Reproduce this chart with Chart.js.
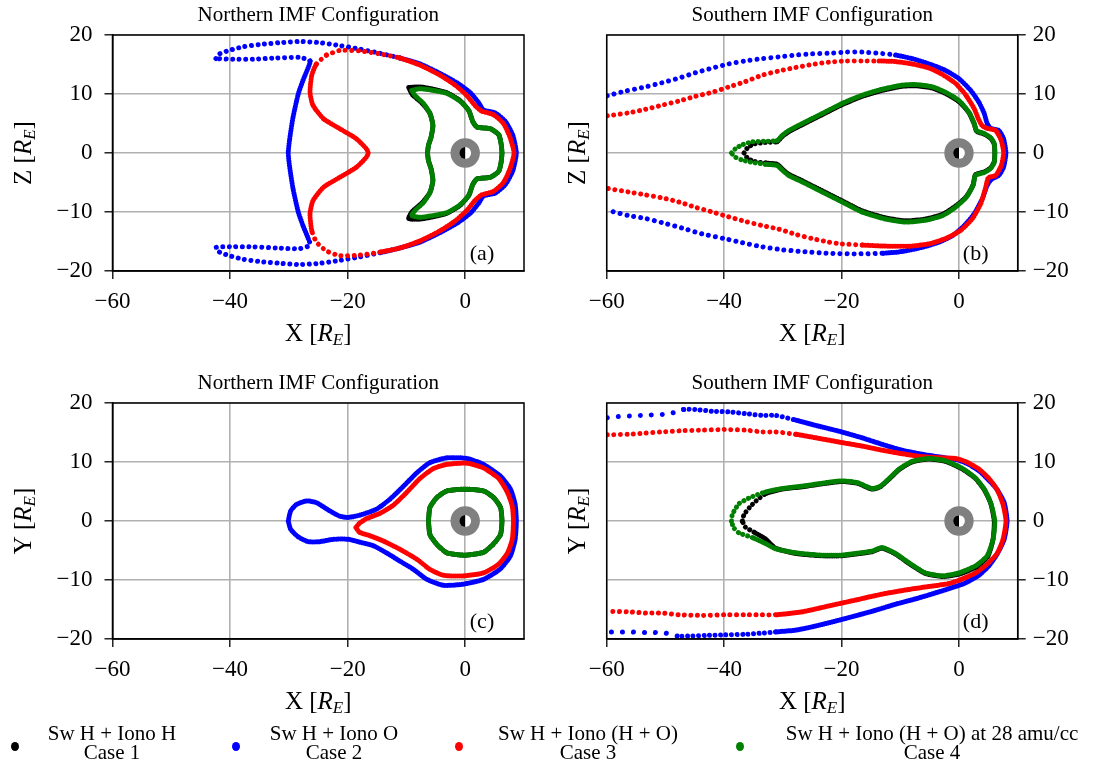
<!DOCTYPE html>
<html>
<head>
<meta charset="utf-8">
<script src="https://cdn.jsdelivr.net/npm/chart.js@4"></script>
<style>
  html, body { margin: 0; padding: 0; background: #fff; }
  body { width: 1107px; height: 766px; position: relative; overflow: hidden; font-family: "Liberation Serif", serif; }
  canvas { position: absolute; }
  .leg-dot { position: absolute; width: 8px; height: 9px; border-radius: 50%; }
  .leg-txt { position: absolute; top: 724px; transform: translateX(-50%); white-space: nowrap;
             text-align: center; font-size: 21px; line-height: 19px; color: #000; }
</style>
</head>
<body>
<canvas id="pa" width="560" height="360" style="left:0;top:0"></canvas>
<canvas id="pb" width="547" height="360" style="left:560px;top:0"></canvas>
<canvas id="pc" width="560" height="360" style="left:0;top:368px"></canvas>
<canvas id="pd" width="547" height="360" style="left:560px;top:368px"></canvas>
<div id="legend"></div>
<script>
// ---- axes ----
const X_MIN = -60, X_MAX = 10, Y_MIN = -20, Y_MAX = 20;
const xTicks = [-60, -40, -20, 0];
const yTicks = [-20, -10, 0, 10, 20];
const EARTH_R = 1, INNER_R = 2.5;   // R_E

const caseLines = ['Sw H + Iono H', 'Sw H + Iono O', 'Sw H + Iono (H + O)', 'Sw H + Iono (H + O) at 28 amu/cc'];
const caseNames = ['Case 1', 'Case 2', 'Case 3', 'Case 4'];
const caseColors = ['#000000', '#0000ff', '#ff0000', '#008000'];

// ---- (a) northern, X-Z ----
const aBlack = [[-9.6,11.1],[-7.7,11.2],[-5.4,10.8],[-3.1,10.2],[-0.9,8.9],[0.6,7.2],[1.3,5.3],[2.0,4.4],[4.3,4.1],[5.7,3.1],[6.1,1.6],[6.25,0],[6.1,-1.6],[5.7,-3.1],[4.3,-4.1],[2.0,-4.4],[1.3,-5.3],[0.6,-7.2],[-0.9,-8.9],[-3.1,-10.2],[-5.4,-10.8],[-7.7,-11.2],[-9.6,-11.1],[-9.0,-9.9],[-7.3,-8.4],[-6.0,-6.7],[-5.5,-4.7],[-5.8,-2.7],[-6.25,-1.3],[-6.4,0],[-6.25,1.3],[-5.8,2.7],[-5.5,4.7],[-6.0,6.7],[-7.3,8.4],[-9.0,9.9],[-9.6,11.1]];
const aBlue = [[-42.4,16.0],[-41.8,16.8],[-40.1,17.4],[-37.8,18.0],[-34.9,18.4],[-31.5,18.7],[-28.1,18.9],[-24.7,18.7],[-21.3,18.2],[-17.9,17.6],[-14.5,16.9],[-11.1,16.1],[-7.7,15.1],[-4.3,13.5],[-1.4,11.9],[0.9,10.2],[2.3,8.5],[3.1,7.3],[5.1,6.8],[6.8,5.4],[8.1,3.0],[8.7,0],[8.1,-3.0],[6.8,-5.4],[5.1,-6.8],[3.1,-7.3],[2.3,-8.5],[0.9,-10.2],[-1.4,-11.9],[-4.3,-13.5],[-7.7,-15.1],[-11.1,-16.1],[-14.5,-16.9],[-17.9,-17.6],[-21.3,-18.2],[-24.7,-18.7],[-28.1,-18.9],[-31.5,-18.7],[-34.9,-18.4],[-37.8,-18.0],[-40.1,-17.4],[-41.8,-16.8],[-42.4,-16.0],[-39.5,-15.9],[-36.1,-15.9],[-32.1,-16.1],[-28.1,-16.2],[-26.4,-15.6],[-26.7,-14.5],[-27.6,-12.3],[-28.4,-10.0],[-29.3,-6.0],[-29.9,-2.1],[-30.1,0],[-29.9,2.1],[-29.3,6.0],[-28.4,10.0],[-27.6,12.3],[-26.7,14.5],[-26.4,15.6],[-28.1,16.2],[-32.1,16.1],[-36.1,15.9],[-39.5,15.9],[-42.4,16.0]];
const aRed = [[-23.6,16.6],[-21.3,17.4],[-17.9,17.3],[-14.5,16.8],[-11.1,16.1],[-7.7,14.9],[-4.3,13.2],[-1.7,11.5],[0.3,9.7],[1.7,8.0],[2.8,7.1],[4.8,6.5],[6.5,5.0],[7.6,2.7],[8.3,0],[7.6,-2.7],[6.5,-5.0],[4.8,-6.5],[2.8,-7.1],[1.7,-8.0],[0.3,-9.7],[-1.7,-11.5],[-4.3,-13.2],[-7.7,-14.9],[-11.1,-16.1],[-14.5,-16.8],[-17.9,-17.3],[-21.3,-17.4],[-23.6,-16.6],[-25.3,-15.1],[-26.1,-13.2],[-26.4,-10.3],[-25.9,-8.1],[-24.1,-5.8],[-21.3,-4.1],[-18.5,-2.4],[-16.8,-0.7],[-16.5,0],[-16.8,0.7],[-18.5,2.4],[-21.3,4.1],[-24.1,5.8],[-25.9,8.1],[-26.4,10.3],[-26.1,13.2],[-25.3,15.1],[-23.6,16.6]];
const aGreen = [[-9.1,10.6],[-7.7,10.9],[-5.4,10.6],[-3.1,10.1],[-0.9,8.8],[0.6,7.2],[1.3,5.3],[2.0,4.4],[4.3,4.1],[5.7,3.1],[6.1,1.6],[6.25,0],[6.1,-1.6],[5.7,-3.1],[4.3,-4.1],[2.0,-4.4],[1.3,-5.3],[0.6,-7.2],[-0.9,-8.8],[-3.1,-10.1],[-5.4,-10.6],[-7.7,-10.9],[-9.1,-10.6],[-8.5,-9.7],[-7.1,-8.4],[-6.0,-6.7],[-5.5,-4.7],[-5.8,-2.7],[-6.25,-1.3],[-6.4,0],[-6.25,1.3],[-5.8,2.7],[-5.5,4.7],[-6.0,6.7],[-7.1,8.4],[-8.5,9.7],[-9.1,10.6]];

// ---- (b) southern, X-Z ----
const bBlack = [[-36.6,0],[-36.0,0.9],[-35.0,1.5],[-33.0,1.8],[-31.0,1.9],[-30.1,2.8],[-29.0,3.6],[-26.7,4.8],[-23.3,6.5],[-19.9,8.2],[-16.5,9.6],[-13.1,10.6],[-9.7,11.3],[-7.4,11.4],[-4.5,11.0],[-2.3,10.1],[0,8.7],[1.7,6.8],[2.6,4.9],[3.0,3.7],[4.3,3.2],[5.4,2.5],[6.0,1.5],[6.1,0],[6.0,-1.5],[5.4,-2.5],[4.3,-3.2],[2.8,-3.7],[2.4,-5.4],[1.25,-7.4],[-0.6,-9.0],[-2.8,-10.4],[-5.7,-11.2],[-9.1,-11.5],[-12.5,-11.0],[-16.5,-9.8],[-19.9,-8.1],[-23.3,-6.4],[-26.7,-4.7],[-29.0,-3.6],[-30.1,-2.7],[-31.0,-1.9],[-33.0,-1.7],[-35.0,-1.4],[-36.0,-0.9],[-36.6,0]];
const bBlue = [[-59.9,9.7],[-56.8,10.5],[-53.4,11.2],[-50.6,11.9],[-47.7,12.7],[-44.9,13.6],[-42.0,14.4],[-39.2,15.1],[-36.4,15.6],[-33.5,16.0],[-30.7,16.3],[-27.8,16.6],[-25.0,16.8],[-22.2,16.9],[-19.3,17.1],[-16.5,17.1],[-13.6,16.9],[-10.8,16.6],[-8.0,16.0],[-5.1,15.1],[-2.3,14.0],[0,12.6],[2.0,10.6],[3.4,8.6],[4.3,6.7],[4.8,5.0],[5.4,4.2],[6.8,3.8],[7.6,2.4],[8.0,0],[7.6,-2.4],[6.8,-3.8],[5.6,-4.4],[4.8,-5.5],[4.0,-7.7],[2.6,-10.3],[0.9,-12.3],[-1.1,-14.0],[-3.4,-15.1],[-6.3,-16.0],[-9.7,-16.7],[-13.1,-17.0],[-17.6,-17.1],[-22.2,-17.0],[-26.7,-16.7],[-30.1,-16.4],[-33.5,-15.9],[-36.9,-15.2],[-40.0,-14.5],[-43.8,-13.7],[-47.2,-12.7],[-50.6,-11.8],[-53.4,-11.1],[-56.3,-10.6],[-59.9,-9.7]];
const bRed = [[-59.9,6.3],[-56.3,6.8],[-53.4,7.4],[-50.6,8.1],[-47.7,8.8],[-44.9,9.6],[-42.0,10.3],[-39.2,11.2],[-36.4,12.1],[-33.5,13.2],[-30.7,13.9],[-27.8,14.5],[-25.0,15.0],[-22.2,15.4],[-19.3,15.6],[-16.5,15.6],[-13.6,15.6],[-10.8,15.5],[-8.0,15.1],[-5.1,14.4],[-2.8,13.3],[-0.6,11.8],[1.1,9.9],[2.6,7.5],[3.3,5.8],[3.9,4.7],[4.7,4.2],[6.25,3.8],[7.2,2.1],[7.6,0],[7.2,-2.1],[6.25,-3.8],[5.0,-4.2],[4.5,-6.0],[3.7,-8.6],[2.3,-11.1],[0.3,-13.1],[-2.3,-14.5],[-5.1,-15.4],[-8.5,-15.8],[-11.9,-15.8],[-16.5,-15.6],[-20.0,-15.4],[-22.2,-15.1],[-25.0,-14.5],[-27.8,-13.8],[-30.7,-12.9],[-33.5,-12.3],[-36.4,-11.6],[-40.0,-10.6],[-42.0,-10.0],[-44.9,-9.2],[-47.7,-8.3],[-50.6,-7.6],[-53.4,-7.1],[-56.3,-6.6],[-59.9,-6.0]];
const bGreen = [[-38.75,0],[-38.1,0.7],[-36.9,1.4],[-35.2,1.9],[-33.0,2.0],[-31.0,2.1],[-30.1,3.0],[-29.0,3.8],[-26.7,5.0],[-23.3,6.7],[-19.9,8.4],[-16.5,9.8],[-13.1,10.8],[-9.7,11.5],[-7.4,11.6],[-4.5,11.2],[-2.3,10.3],[0,8.9],[1.7,6.9],[2.6,5.0],[3.0,3.8],[4.3,3.3],[5.4,2.6],[6.0,1.6],[6.1,0],[6.0,-1.6],[5.4,-2.6],[4.3,-3.3],[2.8,-3.8],[2.4,-5.5],[1.25,-7.5],[-0.6,-9.2],[-2.8,-10.6],[-5.7,-11.4],[-9.1,-11.7],[-12.5,-11.2],[-16.5,-10.0],[-19.9,-8.3],[-23.3,-6.6],[-26.7,-4.9],[-29.0,-3.8],[-30.1,-2.9],[-31.0,-2.1],[-33.0,-1.9],[-35.2,-1.6],[-36.9,-1.2],[-38.1,-0.7],[-38.75,0]];

// ---- (c) northern, X-Y ----
const cBlack = [[-6.25,0],[-6.0,2.3],[-4.8,4.0],[-3.1,5.1],[0,5.4],[3.1,5.1],[4.8,4.0],[6.0,2.3],[6.25,0],[6.0,-2.3],[4.8,-3.9],[3.1,-5.3],[0,-5.8],[-3.1,-5.4],[-4.8,-4.0],[-6.0,-2.3],[-6.25,0]];
const cBlue = [[-30.1,0],[-29.7,1.7],[-28.7,2.8],[-27.0,3.4],[-25.3,3.1],[-23.0,1.7],[-21.3,0.8],[-19.9,0.6],[-17.9,1.0],[-15.1,2.0],[-12.8,3.7],[-10.5,5.9],[-8.2,8.2],[-6.0,9.9],[-3.1,10.7],[0.3,10.6],[3.1,9.6],[6.0,7.6],[7.7,5.4],[8.5,2.8],[8.7,0],[8.5,-3.1],[7.7,-5.9],[6.0,-8.1],[3.1,-9.9],[-0.3,-10.7],[-3.7,-10.9],[-6.5,-9.9],[-8.8,-8.2],[-11.1,-6.8],[-13.4,-5.4],[-15.6,-4.2],[-17.9,-3.6],[-19.9,-3.1],[-22.4,-3.1],[-24.7,-3.5],[-26.7,-3.5],[-28.4,-2.7],[-29.7,-1.4],[-30.1,0]];
const cRed = [[-18.6,-1.1],[-18.0,-0.4],[-16.8,0.4],[-14.5,1.3],[-12.2,2.7],[-9.9,4.9],[-7.7,7.2],[-5.4,8.9],[-3.1,9.6],[0.3,9.8],[3.1,9.0],[5.7,7.2],[7.2,4.8],[8.0,2.5],[8.2,0],[8.0,-3.1],[7.2,-5.4],[5.7,-7.3],[3.1,-8.8],[-0.3,-9.3],[-3.7,-9.2],[-6.0,-8.2],[-8.2,-6.5],[-11.1,-4.8],[-13.9,-3.4],[-16.2,-2.5],[-18.0,-1.9],[-18.6,-1.1]];
const cGreen = [[-6.25,0],[-6.0,2.3],[-4.8,4.0],[-3.1,5.1],[0,5.4],[3.1,5.1],[4.8,4.0],[6.0,2.3],[6.25,0],[6.0,-2.3],[4.8,-3.9],[3.1,-5.3],[0,-5.8],[-3.1,-5.4],[-4.8,-4.0],[-6.0,-2.3],[-6.25,0]];

// ---- (d) southern, X-Y ----
const dBlack = [[-36.9,0],[-36.6,1.1],[-35.2,2.8],[-33.0,4.6],[-30.1,5.4],[-26.7,5.8],[-23.3,6.3],[-20.0,6.7],[-17.3,6.4],[-14.8,5.4],[-13.4,5.8],[-11.9,7.1],[-10.2,8.7],[-8.0,10.0],[-5.1,10.5],[-2.3,10.1],[0.6,8.8],[2.8,7.2],[4.3,5.3],[5.4,3.0],[6.0,0],[5.8,-3.1],[4.9,-6.0],[2.9,-7.8],[0,-9.0],[-2.8,-9.4],[-5.7,-8.9],[-8.5,-7.2],[-10.8,-5.6],[-13.1,-4.6],[-14.8,-5.2],[-17.6,-5.6],[-20.0,-5.9],[-23.3,-5.9],[-27.8,-5.5],[-31.25,-4.6],[-33.0,-3.0],[-34.9,-1.9],[-36.4,-1.0],[-36.9,0]];
const dBlue = [[-59.9,17.5],[-58.0,17.7],[-56.0,17.8],[-54.0,17.9],[-52.0,18.0],[-50.0,18.1],[-48.0,18.5],[-46.9,18.9],[-44.9,18.9],[-42.0,18.6],[-39.2,18.5],[-36.4,18.2],[-33.5,17.9],[-31.25,17.9],[-27.8,17.1],[-24.4,16.2],[-20.0,15.1],[-16.5,14.1],[-13.1,13.0],[-9.7,12.0],[-6.25,11.3],[-2.3,10.7],[0,10.3],[1.7,9.6],[3.4,8.5],[5.1,6.9],[6.5,5.3],[7.7,3.1],[8.2,0],[7.7,-3.1],[6.5,-5.6],[5.1,-7.6],[3.4,-9.2],[1.1,-10.5],[-0.6,-11.1],[-3.4,-12.0],[-7.4,-13.2],[-10.8,-14.1],[-14.8,-15.3],[-20.0,-16.7],[-24.4,-17.8],[-27.8,-18.5],[-31.25,-18.8],[-33.5,-19.0],[-36.4,-19.2],[-40.0,-19.3],[-43.2,-19.4],[-46.0,-19.5],[-48.0,-19.5],[-50.0,-19.0],[-52.0,-18.9],[-54.0,-18.9],[-56.0,-18.8],[-58.0,-18.8],[-59.9,-18.8]];
const dRed = [[-59.9,14.6],[-56.25,14.7],[-53.4,14.9],[-50.6,15.1],[-47.2,15.3],[-43.75,15.4],[-40.0,15.5],[-36.4,15.4],[-33.5,15.1],[-31.25,15.1],[-27.8,14.7],[-24.4,14.1],[-20.0,13.3],[-16.5,12.7],[-13.1,12.0],[-9.7,11.4],[-6.25,10.9],[-2.8,10.7],[-0.6,10.6],[1.1,10.1],[3.4,8.8],[5.1,7.2],[6.5,5.3],[7.5,2.8],[8.0,0],[7.5,-3.1],[6.5,-5.5],[4.8,-7.3],[2.8,-8.8],[0.6,-9.8],[-1.7,-10.6],[-5.1,-11.1],[-8.5,-11.6],[-13.1,-12.4],[-17.6,-13.4],[-22.2,-14.4],[-26.7,-15.4],[-31.25,-15.9],[-33.5,-15.9],[-36.4,-15.9],[-40.0,-15.9],[-43.75,-16.0],[-47.7,-15.9],[-50.6,-15.6],[-53.4,-15.6],[-56.25,-15.4],[-59.9,-15.3]];
const dGreen = [[-38.75,0],[-38.6,1.1],[-37.5,2.9],[-35.5,4.0],[-33.0,4.9],[-30.1,5.5],[-26.7,5.9],[-23.3,6.4],[-20.0,6.8],[-17.3,6.5],[-14.8,5.5],[-13.4,5.9],[-11.9,7.2],[-10.2,8.8],[-8.0,10.1],[-5.1,10.6],[-2.3,10.2],[0.6,8.9],[2.8,7.3],[4.3,5.4],[5.4,3.1],[6.1,0],[5.8,-3.1],[4.8,-5.9],[2.8,-7.6],[0,-8.8],[-2.8,-9.3],[-5.7,-8.8],[-8.5,-7.1],[-10.8,-5.5],[-13.1,-4.5],[-14.8,-5.1],[-17.6,-5.5],[-20.0,-5.8],[-23.3,-5.8],[-27.8,-5.4],[-31.25,-4.7],[-33.0,-3.8],[-35.2,-2.8],[-37.5,-2.0],[-38.4,-1.1],[-38.75,0]];

// ---- helpers ----
const FONT = 'Liberation Serif';
const fmt = v => (v < 0 ? '\u2212' + Math.abs(v) : String(v));

// dots along the boundary: spacing (px) chosen per segment from where it lies
function dotted(points, color, order, gapFor) {
    return {
        data: points.map(p => ({ x: p[0], y: p[1] })),
        borderColor: color,
        backgroundColor: color,
        showLine: true,
        pointRadius: 0,
        pointHoverRadius: 0,
        borderWidth: 5,
        borderCapStyle: 'round',
        borderJoinStyle: 'round',
        tension: 0.2,
        order: order,
        segment: { borderDash: ctx => [0.01, gapFor(ctx.p0.parsed, ctx.p1.parsed)] }
    };
}

function drawAxisName(ctx, letter, x, y, rotated) {
    const parts = [
        { t: letter + ' [', f: `25px "${FONT}"`, dy: 0 },
        { t: 'R', f: `italic 25px "${FONT}"`, dy: 0 },
        { t: 'E', f: `italic 17px "${FONT}"`, dy: 4 },
        { t: ']', f: `25px "${FONT}"`, dy: 0 }
    ];
    ctx.save();
    ctx.translate(x, y);
    if (rotated) ctx.rotate(-Math.PI / 2);
    let w = 0;
    parts.forEach(p => { ctx.font = p.f; p.w = ctx.measureText(p.t).width; w += p.w; });
    let cx = -w / 2;
    ctx.fillStyle = '#000';
    ctx.textBaseline = 'alphabetic';
    ctx.textAlign = 'left';
    parts.forEach(p => { ctx.font = p.f; ctx.fillText(p.t, cx, p.dy); cx += p.w; });
    ctx.restore();
}

const panelDecor = {
    id: 'panelDecor',
    afterDatasetsDraw(chart, args, o) {
        const { ctx, scales: { x, y } } = chart;
        const cx = x.getPixelForValue(0), cy = y.getPixelForValue(0);
        const rIn = x.getPixelForValue(INNER_R) - cx;
        const rE = x.getPixelForValue(EARTH_R) - cx;
        ctx.save();
        ctx.fillStyle = '#808080';
        ctx.beginPath(); ctx.arc(cx, cy, rIn, 0, Math.PI * 2); ctx.fill();
        ctx.fillStyle = '#fff';
        ctx.beginPath(); ctx.arc(cx, cy, rE, 0, Math.PI * 2); ctx.fill();
        ctx.fillStyle = '#000';
        ctx.beginPath(); ctx.arc(cx, cy, rE, Math.PI / 2, Math.PI * 1.5); ctx.closePath(); ctx.fill();
        ctx.restore();
    },
    afterDraw(chart, args, o) {
        const { ctx, chartArea: ca } = chart;
        ctx.save();
        ctx.strokeStyle = '#000';
        ctx.lineWidth = 1.5;
        ctx.strokeRect(ca.left, ca.top, ca.right - ca.left, ca.bottom - ca.top);
        ctx.fillStyle = '#000';
        ctx.textAlign = 'center';
        ctx.textBaseline = 'alphabetic';
        ctx.font = `21px "${FONT}"`;
        ctx.fillText(o.title, (ca.left + ca.right) / 2, ca.top - 14);
        ctx.font = `22px "${FONT}"`;
        ctx.textBaseline = 'middle';
        ctx.fillText(o.tag, ca.right - 42, ca.bottom - 17);
        ctx.restore();
        drawAxisName(ctx, 'X', (ca.left + ca.right) / 2, ca.bottom + 70, false);
        drawAxisName(ctx, o.yName, ca.left - o.yNameGap, (ca.top + ca.bottom) / 2, true);
    }
};

function makePanel(id, title, tag, yName, side, sets) {
    const tickFont = { family: FONT, size: 23 };
    const gridOpts = { color: '#b0b0b0', lineWidth: 1.6, tickColor: '#000', tickLength: 8, tickWidth: 1.3 };
    const noPad = s => { s.paddingTop = 0; s.paddingBottom = 0; s.paddingLeft = 0; s.paddingRight = 0; };
    new Chart(document.getElementById(id), {
        type: 'scatter',
        data: { datasets: sets },
        options: {
            responsive: false,
            animation: false,
            events: [],
            layout: side === 'left'
                ? { padding: { top: 35, left: 0, right: 36, bottom: 49 } }
                : { padding: { top: 35, left: 46.7, right: 0, bottom: 49 } },
            plugins: {
                legend: { display: false },
                tooltip: { enabled: false },
                panelDecor: { title: title, tag: tag, yName: yName, yNameGap: side === 'left' ? 82 : 22 }
            },
            scales: {
                x: {
                    type: 'linear', min: X_MIN, max: X_MAX,
                    afterBuildTicks: s => { s.ticks = xTicks.map(v => ({ value: v })); },
                    afterFit: s => { s.height = 40; noPad(s); },
                    grid: gridOpts,
                    border: { color: '#000', width: 1.5 },
                    ticks: { color: '#000', font: tickFont, padding: 9, maxRotation: 0, autoSkip: false, callback: fmt }
                },
                y: {
                    type: 'linear', min: Y_MIN, max: Y_MAX, position: side,
                    afterBuildTicks: s => { s.ticks = yTicks.map(v => ({ value: v })); },
                    afterFit: s => { s.width = side === 'left' ? 112.5 : 89.3; noPad(s); },
                    grid: gridOpts,
                    border: { color: '#000', width: 1.5 },
                    ticks: { color: '#000', font: tickFont, padding: side === 'left' ? 12 : 7, autoSkip: false, callback: fmt }
                }
            }
        },
        plugins: [panelDecor]
    });
}

const solid = () => 2;

makePanel('pa', 'Northern IMF Configuration', '(a)', 'Z', 'left', [
    dotted(aBlack, caseColors[0], 1, solid),
    dotted(aBlue, caseColors[1], 3, p => (p.x < -12 && Math.abs(p.y) > 15.3 ? 6.5 : 2.5)),
    dotted(aRed, caseColors[2], 2, p => (p.x < -12 && Math.abs(p.y) > 15 ? 6.5 : 2.5)),
    dotted(aGreen, caseColors[3], 0, solid)
]);

makePanel('pb', 'Southern IMF Configuration', '(b)', 'Z', 'right', [
    dotted(bBlack, caseColors[0], 1, p => (p.x < -31 ? 5 : 2)),
    dotted(bBlue, caseColors[1], 3, p => (p.x < -12 ? 7 : 2.5)),
    dotted(bRed, caseColors[2], 2, p => (p.x < -16 ? 6.5 : 2.5)),
    dotted(bGreen, caseColors[3], 0, p => (p.x < -31 ? 5 : 2))
]);

makePanel('pc', 'Northern IMF Configuration', '(c)', 'Y', 'left', [
    dotted(cBlack, caseColors[0], 1, solid),
    dotted(cBlue, caseColors[1], 3, solid),
    dotted(cRed, caseColors[2], 2, solid),
    dotted(cGreen, caseColors[3], 0, solid)
]);

makePanel('pd', 'Southern IMF Configuration', '(d)', 'Y', 'right', [
    dotted(dBlack, caseColors[0], 1, p => (p.x < -33 ? 5 : 2)),
    dotted(dBlue, caseColors[1], 3, p => (p.x < -47 ? 11 : p.x < -31 ? 5.5 : 2)),
    dotted(dRed, caseColors[2], 2, p => (p.x < -31 ? 6.5 : 2)),
    dotted(dGreen, caseColors[3], 0, p => (p.x < -34 ? 5 : 2))
]);

// ---- legend (bottom row) ----
const legDotX = [15, 236, 459, 740];
const legTextX = [112, 334, 588, 932];
const legend = document.getElementById('legend');
caseLines.forEach((line, i) => {
    const dot = document.createElement('div');
    dot.className = 'leg-dot';
    dot.style.background = caseColors[i];
    dot.style.left = (legDotX[i] - 4) + 'px';
    dot.style.top = '742px';
    legend.appendChild(dot);
    const txt = document.createElement('div');
    txt.className = 'leg-txt';
    txt.style.left = legTextX[i] + 'px';
    txt.innerHTML = line + '<br>' + caseNames[i];
    legend.appendChild(txt);
});
</script>
</body>
</html>
